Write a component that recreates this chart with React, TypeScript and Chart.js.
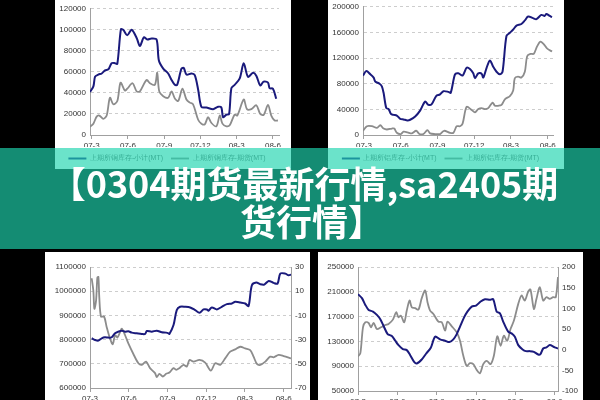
import React, { useEffect, useRef } from "react";
import { Chart, registerables } from "chart.js";

Chart.register(...registerables);

// ---------- shared axis data ----------
const monthTickValues = [0, 3, 6, 9, 12, 15];
const monthTickLabels = ["07-3", "07-6", "07-9", "07-12", "08-3", "08-6"];

const titleLine1 = "【0304期货最新行情,sa2405期";
const titleLine2 = "货行情】";

// ---------- top-left: copper stocks [month offset, MT] ----------
const cuTotalLabel = "上期所铜库存-小计(MT)";
const cuFuturesLabel = "上期所铜库存-期货(MT)";
const cuTotal = [
  [-0.14, 40900], [0.14, 46200], [0.28, 55400], [0.55, 57500], [0.83, 58500], [1.1, 61500], [1.38, 62500],
  [1.65, 68300], [1.93, 68300], [2.12, 67700], [2.42, 100600], [2.61, 100000], [2.94, 94800], [3.3, 100000],
  [3.72, 92300], [3.99, 84600], [4.32, 92900], [4.6, 90800], [4.95, 91700], [5.37, 90800], [5.56, 70800],
  [5.92, 63100], [6.33, 58500], [6.61, 52300], [6.88, 47700], [7.07, 47700], [7.43, 63100], [7.62, 63700],
  [7.84, 57500], [8.26, 58500], [8.53, 56900], [8.81, 43100], [9.08, 26800], [9.49, 26200], [10.05, 24600],
  [10.46, 26800], [10.73, 26200], [10.87, 16900], [11.15, 19400], [11.37, 20000], [11.56, 44600], [11.83, 47700],
  [12.25, 53800], [12.58, 68300], [12.93, 55400], [13.35, 59100], [13.62, 56300], [13.95, 47100], [14.23, 50800],
  [14.59, 49800], [14.72, 44600], [15.0, 44000], [15.27, 34500],
];
const cuFutures = [
  [-0.14, 7700], [0.14, 10800], [0.41, 17500], [0.63, 18500], [0.96, 15400], [1.24, 18500], [1.51, 35400],
  [1.79, 29200], [2.12, 32300], [2.39, 49800], [2.75, 42200], [2.94, 44000], [3.38, 49200], [3.72, 41500],
  [3.99, 41500], [4.54, 52300], [4.82, 49200], [5.23, 47700], [5.42, 59100], [5.59, 41500], [5.92, 36900],
  [6.33, 35400], [6.61, 41500], [6.88, 34800], [7.16, 32300], [7.51, 44000], [7.84, 33800], [8.12, 30800],
  [8.39, 29200], [8.81, 14500], [9.08, 10800], [9.36, 10200], [9.63, 16900], [9.91, 11400], [10.32, 8300],
  [10.6, 18500], [10.82, 10800], [11.15, 8300], [11.42, 9200], [11.83, 19400], [12.05, 18500], [12.58, 33800],
  [12.85, 24600], [13.21, 24600], [13.62, 28300], [13.95, 20000], [14.23, 19100], [14.59, 28600], [14.86, 18500],
  [15.14, 13800], [15.41, 13800],
];

// ---------- top-right: aluminium stocks ----------
const alTotalLabel = "上期所铝库存-小计(MT)";
const alFuturesLabel = "上期所铝库存-期货(MT)";
const alTotal = [
  [-0.08, 92700], [0.19, 99700], [0.52, 94700], [0.79, 89600], [0.92, 83500], [1.27, 80000], [1.46, 75900],
  [1.6, 65800], [1.82, 42000], [2.01, 40500], [2.2, 32900], [2.41, 31400], [2.68, 30400], [2.96, 25300],
  [3.23, 24300], [3.55, 22800], [3.77, 23800], [4.18, 28900], [4.58, 38000], [4.99, 52100], [5.26, 47100],
  [5.53, 48100], [5.89, 60800], [6.21, 63300], [6.48, 68300], [6.89, 67300], [7.08, 65800], [7.43, 94700],
  [7.7, 96200], [8.05, 92700], [8.38, 104800], [8.65, 102800], [8.92, 96200], [9.06, 88600], [9.33, 96200],
  [9.6, 95700], [9.74, 89600], [10.01, 104800], [10.28, 116400], [10.55, 106300], [10.82, 98700], [11.09, 94700],
  [11.31, 98700], [11.63, 154400], [11.91, 159500], [12.18, 164500], [12.45, 170600], [12.85, 173200],
  [13.13, 178700], [13.4, 184800], [13.8, 182300], [14.08, 180800], [14.48, 187300], [14.75, 185800],
  [14.89, 188900], [15.16, 185800], [15.35, 183800],
];
const alFutures = [
  [-0.08, 6600], [0.24, 13700], [0.65, 13700], [1.06, 11100], [1.33, 15200], [1.6, 10100], [1.87, 8600],
  [2.28, 10100], [2.47, 10100], [2.68, 3500], [3.01, 1500], [3.23, 5100], [3.55, 4100], [3.91, 2500],
  [4.26, 6600], [4.53, 1500], [4.85, 1500], [5.18, 7600], [5.4, 2500], [5.8, 1500], [6.21, 1500], [6.54, 6600],
  [7.02, 3500], [7.3, 3500], [7.57, 13700], [7.84, 13700], [8.05, 17700], [8.38, 44000], [8.79, 39000],
  [9.06, 35400], [9.33, 40500], [9.6, 42000], [9.87, 40500], [10.14, 42000], [10.5, 50600], [10.69, 45600],
  [10.96, 45600], [11.23, 47100], [11.5, 55700], [11.91, 60800], [12.18, 69400], [12.31, 88600], [12.58, 91100],
  [12.85, 89600], [13.13, 98700], [13.32, 123000], [13.59, 126600], [13.86, 126600], [14.13, 138200],
  [14.4, 145800], [14.67, 141800], [14.94, 135200], [15.35, 130100],
];

// ---------- bottom-left: left axis stock, right axis spread ----------
const blLeftLabel = "库存";
const blRightLabel = "价差";
const blLeft = [
  [0.13, 805500], [0.39, 798600], [0.65, 795900], [0.91, 805500], [1.16, 809600], [1.42, 808200], [1.68, 809600],
  [1.94, 826000], [2.2, 832900], [2.46, 837000], [2.72, 832900], [2.97, 834200], [3.23, 828800], [3.62, 826000],
  [4.01, 823300], [4.27, 823300], [4.4, 835600], [4.78, 832900], [5.17, 837000], [5.56, 830100], [5.9, 828800],
  [6.08, 826000], [6.15, 823300], [6.47, 860300], [6.72, 921900], [6.98, 935600], [7.37, 935600], [7.76, 932900],
  [8.15, 921900], [8.48, 911000], [8.79, 924700], [9.05, 924700], [9.18, 919200], [9.44, 932900], [9.83, 924700],
  [10.21, 935600], [10.6, 946600], [10.99, 949300], [11.25, 956200], [11.64, 953400], [12.02, 949300],
  [12.28, 938400], [12.54, 1024700], [12.88, 1035600], [13.19, 1028800], [13.5, 1027400], [13.84, 1042500],
  [14.22, 1034300], [14.53, 1031500], [14.74, 1072600], [15.13, 1072600], [15.38, 1065800], [15.57, 1068500],
];
const blRight = [
  [0.13, 20.7], [0.26, 10.4], [0.34, -4.6], [0.47, 2.2], [0.57, 21.3], [0.65, 21.8], [0.72, 4.9], [0.85, -10.9],
  [1.09, -10.9], [1.29, -19.6], [1.55, -29.1], [1.76, -33.8], [1.94, -26.4], [2.12, -28.3], [2.28, -25.0],
  [2.46, -21.0], [2.72, -26.4], [2.97, -33.2], [3.36, -41.9], [3.75, -49.6], [4.01, -50.9], [4.34, -48.2],
  [4.65, -53.6], [5.04, -57.7], [5.17, -61.0], [5.38, -58.3], [5.64, -60.5], [5.9, -58.3], [6.15, -57.2],
  [6.47, -53.6], [6.67, -55.0], [6.93, -53.6], [7.24, -50.9], [7.5, -52.2], [7.71, -46.8], [8.02, -48.2],
  [8.48, -46.8], [8.92, -49.0], [9.36, -55.6], [9.7, -49.6], [10.09, -50.9], [10.47, -45.5], [10.86, -40.0],
  [11.25, -38.1], [11.64, -35.9], [12.02, -37.3], [12.41, -38.7], [12.67, -44.1], [12.93, -50.1], [13.19, -50.9],
  [13.58, -48.2], [13.96, -44.1], [14.22, -44.6], [14.61, -42.7], [15.0, -43.6], [15.57, -45.5],
];

// ---------- bottom-right ----------
const brLeftLabel = "库存";
const brRightLabel = "价差";
const brLeft = [
  [0, 206200], [0.3, 199700], [0.56, 188900], [0.81, 180800], [1.14, 178100], [1.44, 172700], [1.7, 165700],
  [1.95, 154900], [2.26, 141900], [2.58, 138600], [2.84, 131100], [3.09, 124000], [3.42, 117600], [3.72, 115900],
  [3.98, 107800], [4.28, 97000], [4.48, 94300], [4.86, 100800], [5.2, 110500], [5.55, 119700], [5.88, 137600],
  [6.26, 133300], [6.64, 131100], [6.97, 128900], [7.27, 133300], [7.52, 141300], [7.78, 153800], [8.08, 168400],
  [8.34, 178100], [8.67, 186200], [9.0, 187800], [9.35, 194300], [9.68, 198100], [10.06, 197000], [10.31, 198100],
  [10.57, 178100], [10.82, 175400], [11.07, 161900], [11.45, 145700], [11.71, 143000], [11.96, 137600],
  [12.22, 124000], [12.55, 117000], [12.8, 114300], [13.1, 114300], [13.41, 113200], [13.74, 108900],
  [13.91, 109500], [14.12, 118600], [14.37, 120300], [14.62, 124000], [15.0, 120300], [15.25, 118600],
];
const brRight = [
  [0, -16.5], [0.18, -8.4], [0.38, 54.1], [0.56, 66.2], [0.81, 64.6], [0.99, 54.1], [1.19, 64.6], [1.44, 50.0],
  [1.75, 54.1], [2.08, 59.7], [2.33, 62.2], [2.66, 72.7], [2.91, 90.5], [3.09, 78.4], [3.27, 82.4], [3.52, 66.2],
  [3.72, 94.6], [3.93, 118.9], [4.1, 102.7], [4.36, 100.3], [4.61, 97.0], [4.86, 124.6], [5.12, 143.2],
  [5.3, 114.9], [5.5, 94.6], [5.75, 86.5], [6.13, 67.8], [6.39, 66.2], [6.64, 45.9], [6.82, 67.8], [7.15, 56.5],
  [7.53, 41.9], [7.78, 21.6], [8.03, -14.9], [8.29, -39.2], [8.54, -32.7], [8.79, -35.1], [9.05, -48.9],
  [9.3, -57.0], [9.55, -35.1], [9.81, -27.0], [10.11, -35.1], [10.36, -14.9], [10.62, 32.2], [10.87, 9.5],
  [11.12, 33.8], [11.38, 21.6], [11.63, 50.0], [11.89, 70.3], [12.22, 110.8], [12.47, 131.1], [12.72, 118.9],
  [12.98, 140.8], [13.15, 145.7], [13.41, 98.6], [13.61, 123.0], [13.86, 151.3], [14.12, 118.9], [14.37, 127.0],
  [14.62, 123.0], [14.88, 127.0], [15.08, 127.0], [15.25, 175.7],
];

// ---------- styling ----------
const BLUE = "#1a1a7c";
const GRAY = "#8c8c8c";
const AXIS = "#a0a0a0";
const GRID = "#cdcdcd";
const TXT = "#333333";
const FONT = "'Liberation Sans', Arial, Helvetica, sans-serif";

type Range = { min: number; max: number; step: number };
type Spec = {
  box: { left: number; top: number; width: number; height: number };
  padding: { top: number; right: number; bottom: number; left: number };
  yWidth: number;
  y2Width?: number;
  xHeight: number;
  xMin: number;
  xMax: number;
  y: Range;
  y2?: Range;
  series: { label: string; points: number[][]; color: string; width: number; axis: string }[];
  legend: boolean;
};

function ChartPanel({ spec }: { spec: Spec }) {
  const ref = useRef<HTMLCanvasElement | null>(null);
  useEffect(() => {
    if (!ref.current) return;
    const font = { family: FONT, size: 8 };
    const plain = (v: any) => String(v);
    const scales: any = {
      x: {
        type: "linear",
        min: spec.xMin,
        max: spec.xMax,
        afterBuildTicks: (ax: any) => {
          ax.ticks = monthTickValues.map((v) => ({ value: v }));
        },
        afterFit: (ax: any) => {
          ax.height = spec.xHeight;
        },
        ticks: {
          font,
          color: TXT,
          padding: 2,
          maxRotation: 0,
          autoSkip: false,
          callback: (v: any) => {
            const i = monthTickValues.indexOf(Number(v));
            return i >= 0 ? monthTickLabels[i] : "";
          },
        },
        grid: { drawOnChartArea: false, drawTicks: true, tickLength: 4, color: AXIS },
        border: { display: true, color: AXIS },
      },
      y: {
        type: "linear",
        position: "left",
        min: spec.y.min,
        max: spec.y.max,
        afterFit: (ax: any) => {
          ax.width = spec.yWidth;
        },
        ticks: { stepSize: spec.y.step, font, color: TXT, padding: 4, callback: plain },
        grid: { color: GRID, drawTicks: false },
        border: { display: true, color: AXIS, dash: [3, 3] },
      },
    };
    if (spec.y2) {
      scales.y2 = {
        type: "linear",
        position: "right",
        min: spec.y2.min,
        max: spec.y2.max,
        afterFit: (ax: any) => {
          ax.width = spec.y2Width;
        },
        ticks: { stepSize: spec.y2.step, font, color: TXT, padding: 4, callback: plain },
        grid: { drawOnChartArea: false, drawTicks: false },
        border: { display: true, color: AXIS },
      };
    }
    const chart = new Chart(ref.current, {
      type: "line",
      data: {
        datasets: spec.series.map((s) => ({
          label: s.label,
          data: s.points.map((p) => ({ x: p[0], y: p[1] })),
          borderColor: s.color,
          backgroundColor: s.color,
          borderWidth: s.width,
          yAxisID: s.axis,
          pointRadius: 0,
          tension: 0.3,
          fill: false,
        })),
      },
      options: {
        responsive: false,
        maintainAspectRatio: false,
        animation: false,
        layout: { padding: spec.padding },
        plugins: {
          tooltip: { enabled: false },
          legend: {
            display: spec.legend,
            position: "bottom",
            labels: {
              usePointStyle: true,
              pointStyle: "line",
              pointStyleWidth: 18,
              boxHeight: 7,
              padding: 8,
              color: "#666",
              font: { family: FONT, size: 7 },
            },
          },
        },
        scales,
      } as any,
    });
    return () => chart.destroy();
  }, [spec]);
  const b = spec.box;
  return (
    <canvas
      ref={ref}
      width={b.width}
      height={b.height}
      style={{ position: "absolute", left: b.left, top: b.top, width: b.width, height: b.height }}
    />
  );
}

const specs: Spec[] = [
  {
    box: { left: 55, top: 0, width: 236, height: 172 },
    padding: { top: 0, right: 12, bottom: 0, left: 0 },
    yWidth: 35,
    xHeight: 12,
    xMin: -0.14,
    xMax: 15.5,
    y: { min: 0, max: 120000, step: 20000 },
    series: [
      { label: cuTotalLabel, points: cuTotal, color: BLUE, width: 2, axis: "y" },
      { label: cuFuturesLabel, points: cuFutures, color: GRAY, width: 1.8, axis: "y" },
    ],
    legend: true,
  },
  {
    box: { left: 328, top: -2, width: 236, height: 174 },
    padding: { top: 0, right: 11, bottom: 0, left: 0 },
    yWidth: 35,
    xHeight: 12,
    xMin: -0.08,
    xMax: 15.43,
    y: { min: 0, max: 200000, step: 40000 },
    series: [
      { label: alTotalLabel, points: alTotal, color: BLUE, width: 2, axis: "y" },
      { label: alFuturesLabel, points: alFutures, color: GRAY, width: 1.8, axis: "y" },
    ],
    legend: true,
  },
  {
    box: { left: 45, top: 252, width: 265, height: 156 },
    padding: { top: 15, right: 0, bottom: 0, left: 0 },
    yWidth: 45,
    y2Width: 19,
    xHeight: 20,
    xMin: 0,
    xMax: 15.57,
    y: { min: 600000, max: 1100000, step: 100000 },
    y2: { min: -70, max: 30, step: 10 },
    series: [
      { label: blLeftLabel, points: blLeft, color: BLUE, width: 2, axis: "y" },
      { label: blRightLabel, points: blRight, color: GRAY, width: 1.8, axis: "y2" },
    ],
    legend: false,
  },
  {
    box: { left: 318, top: 252, width: 265, height: 159 },
    padding: { top: 15, right: 0, bottom: 0, left: 0 },
    yWidth: 40,
    y2Width: 25,
    xHeight: 20,
    xMin: 0,
    xMax: 15.25,
    y: { min: 50000, max: 250000, step: 40000 },
    y2: { min: -100, max: 200, step: 50 },
    series: [
      { label: brLeftLabel, points: brLeft, color: BLUE, width: 2, axis: "y" },
      { label: brRightLabel, points: brRight, color: GRAY, width: 1.8, axis: "y2" },
    ],
    legend: false,
  },
];

const panels = [
  { left: 55, top: 0, width: 236, height: 169 },
  { left: 328, top: 0, width: 236, height: 169 },
  { left: 45, top: 252, width: 265, height: 160 },
  { left: 318, top: 252, width: 265, height: 160 },
];

const titleStyle: React.CSSProperties = {
  position: "absolute",
  left: 0,
  width: 600,
  boxSizing: "border-box",
  textAlign: "center",
  color: "#fff",
  fontFamily: "'Noto Sans CJK SC', 'Noto Sans', sans-serif",
  fontWeight: 700,
  fontSize: 36,
  lineHeight: "38px",
  height: 38,
  whiteSpace: "nowrap",
};

export default function App() {
  return (
    <div
      style={{
        position: "fixed",
        left: 0,
        top: 0,
        width: 600,
        height: 400,
        overflow: "hidden",
        background: "#000",
      }}
    >
      {panels.map((p, i) => (
        <div
          key={"p" + i}
          style={{ position: "absolute", left: p.left, top: p.top, width: p.width, height: p.height, background: "#fff" }}
        />
      ))}
      {specs.map((s, i) => (
        <ChartPanel key={"c" + i} spec={s} />
      ))}
      <div
        style={{
          position: "absolute",
          left: 0,
          top: 148,
          width: 600,
          height: 101,
          background: "rgba(31, 212, 175, 0.66)",
        }}
      />
      <div style={{ ...titleStyle, top: 163, paddingLeft: 8 }}>{titleLine1}</div>
      <div style={{ ...titleStyle, top: 201, paddingLeft: 24 }}>{titleLine2}</div>
    </div>
  );
}
